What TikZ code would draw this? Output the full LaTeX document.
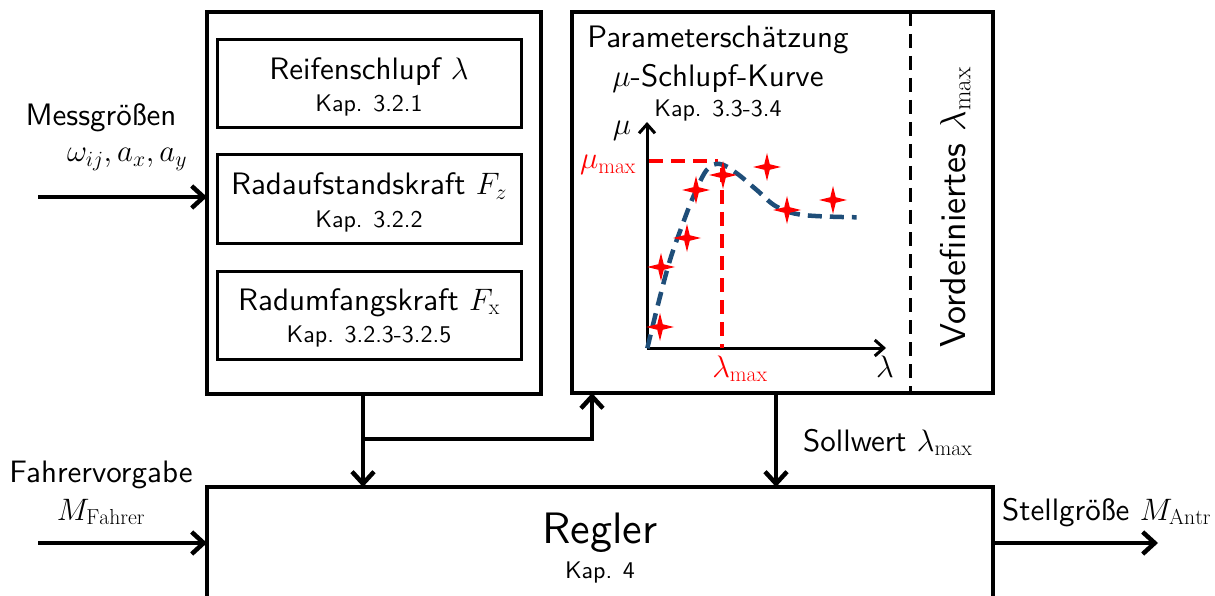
\documentclass[tikz,border=0pt]{standalone}
\usepackage{fix-cm}
\usepackage{fontspec}
\setsansfont{lmsans10-regular.otf}
\usetikzlibrary{arrows.meta,shapes.geometric}
\definecolor{curveblue}{RGB}{31,78,121}
\newcommand\fsT{\fontsize{31}{34}\selectfont}
\newcommand\fsK{\fontsize{24}{26}\selectfont}
\newcommand\fsR{\fontsize{44}{48}\selectfont}
\newcommand\fsV{\fontsize{36}{40}\selectfont}
\begin{document}
\begin{tikzpicture}[x=1pt,y=-1pt,
  outerbox/.style={draw, line width=4.5pt, inner sep=0pt, outer sep=0pt, rectangle},
  innerbox/.style={draw, line width=3pt, inner sep=0pt, outer sep=0pt, rectangle, minimum width=304pt, minimum height=88pt},
  arr/.style={line width=4.5pt, -{Straight Barb[length=12pt,width=22pt,line width=4.5pt]}},
  axisarr/.style={line width=3pt, -{Straight Barb[length=9pt,width=16pt,line width=3pt]}},
  txt/.style={font=\sffamily\fsT, anchor=base, inner sep=0pt},
  kap/.style={font=\sffamily\fsK, anchor=base, inner sep=0pt},
  reddash/.style={draw=red, line width=4pt, dash pattern=on 14pt off 8pt},
  bluedash/.style={draw=curveblue, line width=4.5pt, dash pattern=on 14pt off 8pt},
  mstar/.style={star, star points=4, star point ratio=3.6, fill=red, draw=none, minimum size=28pt, inner sep=0pt},
]
\useasboundingbox (0,0) rectangle (1215,596);
\clip (0,0) rectangle (1215,596);

% main boxes
\node[outerbox, minimum width=334pt, minimum height=382pt] (lbox) at (374,203) {};
\node[outerbox, minimum width=421pt, minimum height=381pt] (rbox) at (782.5,202.5) {};
\node[outerbox, minimum width=786pt, minimum height=153pt] (reg) at (600,563.5) {};

% inner boxes
\node[innerbox] (b1) at (369,84) {};
\node[innerbox] (b2) at (369,199) {};
\node[innerbox] (b3) at (369,315) {};

\node[txt] (t1) at (369,80) {Reifenschlupf $\lambda$};
\node[kap] (k1) at (369,112) {Kap. 3.2.1};
\node[txt] (t2) at (369,195) {Radaufstandskraft $F_z$};
\node[kap] (k2) at (369,227) {Kap. 3.2.2};
\node[txt] (t3) at (369,310) {Radumfangskraft $F_{\mathrm{x}}$};
\node[kap] (k3) at (369,342) {Kap. 3.2.3-3.2.5};

% right box texts
\node[txt] (p1) at (718,48) {Parameterschätzung};
\node[txt] (p2) at (718,87) {$\mu$-Schlupf-Kurve};
\node[kap] (p3) at (718,117) {Kap. 3.3-3.4};
\node[font=\sffamily\fsV, rotate=90, anchor=base west, inner sep=0pt] (vd) at (965,348) {Vordefiniertes $\lambda_{\mathrm{max}}$};
\coordinate (dT) at (910,12);
\coordinate (dB) at (910,393);
\draw[line width=3pt, dash pattern=on 14pt off 8pt] (dT) -- (dB);

% graph
\coordinate (O) at (647,348);
\coordinate (Ytop) at (647,122);
\coordinate (Xend) at (886,348);
\draw[axisarr] (O) -- (Ytop);
\draw[axisarr] (O) -- (Xend);
\node[font=\fsT, anchor=base, inner sep=0pt] (mulab) at (622,135) {$\mu$};
\node[font=\fsT, anchor=base, inner sep=0pt] (lalab) at (885,377) {$\lambda$};
\node[font=\fsT, anchor=base, inner sep=0pt, text=red] (mumax) at (608,169) {$\mu_{\mathrm{max}}$};
\node[font=\fsT, anchor=base, inner sep=0pt, text=red] (lamax) at (740,377) {$\lambda_{\mathrm{max}}$};
\coordinate (hL) at (649,161);
\coordinate (hR) at (718,161);
\coordinate (vT) at (722,168);
\coordinate (vB) at (722,348);
\draw[reddash] (hL) -- (hR);
\draw[reddash] (vT) -- (vB);
\draw[bluedash] plot[smooth, tension=0.6] coordinates {(647.3,348.3) (658.3,303.3) (670,260) (681.7,226.7) (693.3,196.7) (706.7,170) (720,164) (736.7,173.3) (756.7,190) (776.7,206.7) (803.3,215) (856.7,217.3)};
\node[mstar] (s1) at (660,327) {};
\node[mstar] (s2) at (661,267) {};
\node[mstar] (s3) at (687,238) {};
\node[mstar] (s4) at (696,190) {};
\node[mstar] (s5) at (723,175) {};
\node[mstar] (s6) at (767,167) {};
\node[mstar] (s7) at (787,210) {};
\node[mstar] (s8) at (833,200) {};

% Regler text
\node[font=\sffamily\fsR, anchor=base, inner sep=0pt] (rt) at (600,543) {Regler};
\node[kap] (rk) at (600,578) {Kap. 4};

% inputs
\node[txt] (mg) at (101,126) {Messgrößen};
\node[txt] (mgv) at (127,162) {$\omega_{ij}, a_x, a_y$};
\coordinate (mIn) at (38,197);
\draw[arr] (mIn) -- (lbox.west |- mIn);

\node[txt] (fv) at (101,482) {Fahrervorgabe};
\node[txt] (fm) at (101,520) {$M_{\mathrm{Fahrer}}$};
\coordinate (fIn) at (38,543);
\draw[arr] (fIn) -- (reg.west |- fIn);

% output
\node[txt, anchor=base west] (sg) at (1002,520) {Stellgröße $M_{\mathrm{Antr}}$};
\coordinate (outE) at (1158,543);
\draw[arr] (reg.east |- outE) -- (outE);

% internal connections
\coordinate (br) at (363,439);
\coordinate (bu) at (592,439);
\draw[arr] (lbox.south -| br) -- (reg.north -| br);
\draw[arr] (br) -- (bu) -- (rbox.south -| bu);
\coordinate (sw) at (776,440);
\draw[arr] (rbox.south -| sw) -- (reg.north -| sw);
\node[txt, anchor=base west] (swl) at (803,451) {Sollwert $\lambda_{\mathrm{max}}$};
\end{tikzpicture}
\end{document}
